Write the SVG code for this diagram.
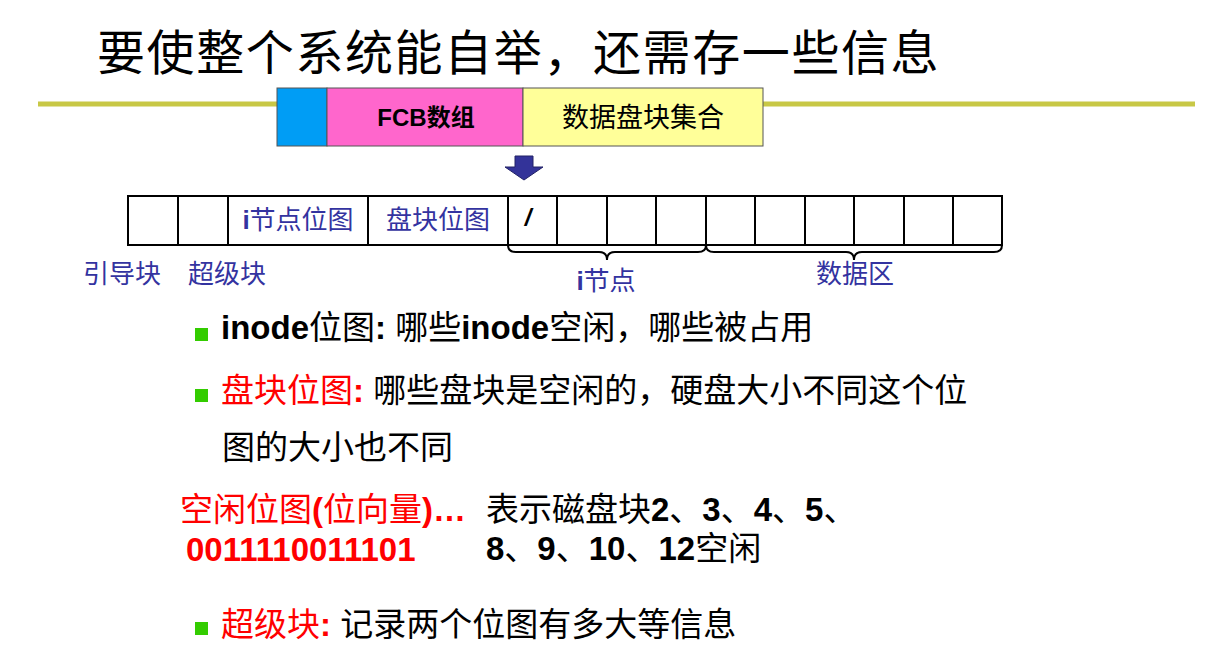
<svg xmlns="http://www.w3.org/2000/svg" width="1230" height="653" viewBox="0 0 1230 653">
<style>
text{font-family:"Liberation Sans","Noto Sans CJK SC",sans-serif;}
.title{font-size:48px;fill:#000;letter-spacing:1.6px;}
.cell{fill:#fff;stroke:#000;stroke-width:2;}
.blue{fill:#3333a0;font-size:26px;}
.body{font-size:33px;fill:#000;}
.b{font-weight:bold;}
.red{fill:#ff0000;}
.bullet{fill:#33cc00;}
.brace{fill:none;stroke:#000;stroke-width:2;}
</style>
<rect width="1230" height="653" fill="#fff"/>
<g id="title"><text class="title" x="97" y="70">要使整个系统能自举，还需存一些信息</text></g>
<g id="rule"><line x1="38" y1="104" x2="1195" y2="104" stroke="#c8c846" stroke-width="5"/></g>
<g id="fcb-layout">
<rect x="277" y="88" width="50" height="58" fill="#009df5" stroke="#555" stroke-width="1"/>
<rect x="327" y="88" width="196" height="58" fill="#ff66cc" stroke="#555" stroke-width="1"/>
<rect x="523" y="88" width="240" height="58" fill="#ffff99" stroke="#555" stroke-width="1"/>
<text x="426" y="126" font-size="24" font-weight="bold" text-anchor="middle">FCB数组</text>
<text x="643" y="127" font-size="27" text-anchor="middle">数据盘块集合</text>
</g>
<g id="connectors">
<polygon points="515,156 533,156 533,167 543,167 524,180 505,167 515,167" fill="#333399" stroke="#222266" stroke-width="1"/>
<path class="brace" d="M508,245 Q508,252 516,252 L599,252 Q607,252 607,260 Q607,252 615,252 L698,252 Q706,252 706,245"/>
<path class="brace" d="M706,245 Q706,252 714,252 L846,252 Q854,252 854,260 Q854,252 862,252 L994,252 Q1002,252 1002,245"/>
</g>
<g id="disk-row">
<rect class="cell" x="128" y="196" width="50" height="49"/>
<rect class="cell" x="178" y="196" width="50" height="49"/>
<rect class="cell" x="228" y="196" width="140" height="49"/>
<rect class="cell" x="368" y="196" width="140" height="49"/>
<rect class="cell" x="508" y="196" width="49" height="49"/>
<rect class="cell" x="557" y="196" width="50" height="49"/>
<rect class="cell" x="607" y="196" width="49" height="49"/>
<rect class="cell" x="656" y="196" width="50" height="49"/>
<rect class="cell" x="706" y="196" width="49" height="49"/>
<rect class="cell" x="755" y="196" width="50" height="49"/>
<rect class="cell" x="805" y="196" width="49" height="49"/>
<rect class="cell" x="854" y="196" width="50" height="49"/>
<rect class="cell" x="904" y="196" width="49" height="49"/>
<rect class="cell" x="953" y="196" width="49" height="49"/>
<text class="blue" x="298" y="229" text-anchor="middle"><tspan class="b">i</tspan>节点位图</text>
<text class="blue" x="438" y="229" text-anchor="middle">盘块位图</text>
<text x="528" y="226" font-size="24" font-style="italic" font-weight="bold" text-anchor="middle">/</text>
</g>
<g id="labels">
<text class="blue" x="83" y="283">引导块</text>
<text class="blue" x="188" y="283">超级块</text>
<text class="blue" x="606" y="290" text-anchor="middle"><tspan class="b">i</tspan>节点</text>
<text class="blue" x="855" y="283" text-anchor="middle">数据区</text>
</g>
<g id="bullet1">
<rect class="bullet" x="195" y="328" width="13" height="13"/>
<text class="body" x="221" y="339"><tspan class="b">inode</tspan>位图<tspan class="b">:</tspan> 哪些<tspan class="b">inode</tspan>空闲，哪些被占用</text>
</g>
<g id="bullet2">
<rect class="bullet" x="195" y="389" width="13" height="13"/>
<text class="body" x="221" y="402"><tspan class="red">盘块位图</tspan><tspan class="red b">:</tspan> 哪些盘块是空闲的，硬盘大小不同这个位</text>
<text class="body" x="222" y="459">图的大小也不同</text>
</g>
<g id="example">
<text class="body red" x="180" y="521">空闲位图<tspan class="b">(</tspan>位向量<tspan class="b">)…</tspan></text>
<text class="body red b" x="186" y="561">0011110011101</text>
<text class="body" x="486" y="521">表示磁盘块<tspan class="b">2</tspan>、<tspan class="b">3</tspan>、<tspan class="b">4</tspan>、<tspan class="b">5</tspan>、</text>
<text class="body" x="486" y="560"><tspan class="b">8</tspan>、<tspan class="b">9</tspan>、<tspan class="b">10</tspan>、<tspan class="b">12</tspan>空闲</text>
</g>
<g id="bullet3">
<rect class="bullet" x="195" y="622" width="13" height="13"/>
<text class="body" x="221" y="636"><tspan class="red">超级块</tspan><tspan class="red b">:</tspan> 记录两个位图有多大等信息</text>
</g>
</svg>
